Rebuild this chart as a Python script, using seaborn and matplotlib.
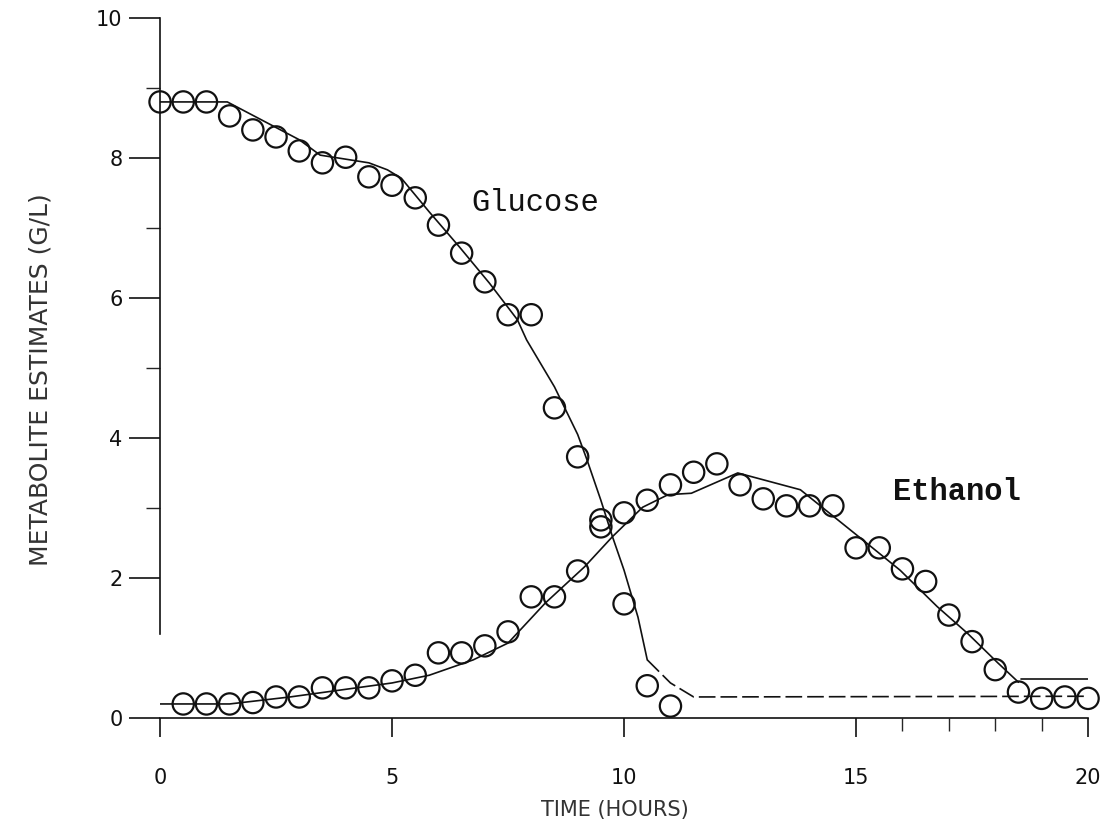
import matplotlib
matplotlib.use('Agg')
import numpy as np
import pandas as pd
import seaborn as sns
import matplotlib.pyplot as plt
from matplotlib.ticker import MultipleLocator, FixedLocator

#--------------------------------------------------------------------------------------------------------------------------
# Data
# Observed glucose (circles), every half hour from 0 h
glc_time = [0.0, 0.5, 1.0, 1.5, 2.0, 2.5, 3.0, 3.5, 4.0, 4.5, 5.0, 5.5, 6.0, 6.5, 7.0, 7.5,
            8.0, 8.5, 9.0, 9.5, 10.0, 10.5, 11.0]
glc_obs = [8.8, 8.8, 8.8, 8.6, 8.4, 8.3, 8.1, 7.93, 8.01, 7.73, 7.61, 7.43, 7.04, 6.64, 6.23, 5.76,
           5.76, 4.43, 3.73, 2.83, 1.63, 0.46, 0.17]

# Observed ethanol (circles), every half hour from 0.5 h
eth_time = [0.5, 1.0, 1.5, 2.0, 2.5, 3.0, 3.5, 4.0, 4.5, 5.0, 5.5, 6.0, 6.5, 7.0, 7.5, 8.0,
            8.5, 9.0, 9.5, 10.0, 10.5, 11.0, 11.5, 12.0, 12.5, 13.0, 13.5, 14.0, 14.5, 15.0,
            15.5, 16.0, 16.5, 17.0, 17.5, 18.0, 18.5, 19.0, 19.5, 20.0]
eth_obs = [0.2, 0.2, 0.2, 0.22, 0.3, 0.3, 0.43, 0.43, 0.43, 0.53, 0.61, 0.93, 0.93, 1.03, 1.23, 1.73,
           1.73, 2.1, 2.73, 2.93, 3.11, 3.33, 3.51, 3.63, 3.33, 3.13, 3.03, 3.03, 3.03, 2.43,
           2.43, 2.13, 1.95, 1.47, 1.09, 0.69, 0.37, 0.28, 0.3, 0.28]

# Model estimates (lines)
glc_fit_time = [0, 1.45, 3.0, 3.45, 4.5, 4.9, 5.2, 5.8, 6.45, 7.1, 7.7, 7.9, 8.5, 9.0, 9.2, 9.5,
                9.75, 10.0, 10.3, 10.5]
glc_fit = [8.8, 8.8, 8.26, 8.04, 7.93, 7.83, 7.71, 7.23, 6.73, 6.21, 5.69, 5.4, 4.73, 4.05, 3.69, 3.11,
           2.59, 2.11, 1.44, 0.83]
glc_tail_time = [10.5, 11.0, 11.5, 20.0]
glc_tail = [0.83, 0.5, 0.3, 0.31]

eth_fit_time = [0, 1.5, 2.8, 3.9, 5.0, 5.8, 6.75, 7.5, 8.3, 9.15, 9.75, 10.4, 10.95, 11.45, 12.45,
                13.8, 15.15, 15.95, 16.75, 17.4, 18.05, 18.5]
eth_fit = [0.2, 0.2, 0.3, 0.4, 0.5, 0.61, 0.83, 1.07, 1.64, 2.16, 2.59, 3.01, 3.19, 3.21, 3.5,
           3.26, 2.54, 2.11, 1.59, 1.21, 0.79, 0.51]
eth_tail_time = [18.55, 20.0]
eth_tail = [0.55, 0.55]

x_ticks = [0, 5, 10, 15, 20]
x_minor = [16, 17, 18, 19]
y_ticks = [0, 2, 4, 6, 8, 10]
y_minor = [3, 5, 7, 9]

#--------------------------------------------------------------------------------------------------------------------------
sns.set_style('ticks')
plt.rcParams['font.family'] = ['DejaVu Sans']

fig = plt.figure(figsize=(11.13, 8.26), dpi=100)
ax = fig.add_axes([0.1438, 0.1308, 0.8338, 0.8475])

ink = '#111111'

# Fitted curves
sns.lineplot(x=glc_fit_time, y=glc_fit, sort=False, estimator=None, color=ink, lw=1.2, ax=ax)
sns.lineplot(x=glc_tail_time, y=glc_tail, sort=False, estimator=None, color=ink, lw=1.2,
             dashes=False, ax=ax).lines[-1].set_dashes([10, 3])
sns.lineplot(x=eth_fit_time, y=eth_fit, sort=False, estimator=None, color=ink, lw=1.2, ax=ax)
sns.lineplot(x=eth_tail_time, y=eth_tail, sort=False, estimator=None, color=ink, lw=1.2, ax=ax)

# Observations
for t, v in [(glc_time, glc_obs), (eth_time, eth_obs)]:
    sns.scatterplot(x=t, y=v, marker='o', s=235, facecolor='none', edgecolor=ink,
                    linewidth=1.6, clip_on=False, zorder=3, ax=ax)

# Curve labels
ax.text(6.72, 7.36, 'Glucose', family='Liberation Mono', fontsize=22, color=ink,
        ha='left', va='center')
ax.text(15.8, 3.23, 'Ethanol', family='Liberation Mono', fontsize=22, fontweight='bold',
        color=ink, ha='left', va='center')

# Axes
ax.set_xlim(0, 20)
ax.set_ylim(0, 10)
ax.xaxis.set_major_locator(FixedLocator(x_ticks))
ax.xaxis.set_minor_locator(FixedLocator(x_minor))
ax.yaxis.set_major_locator(FixedLocator(y_ticks))
ax.yaxis.set_minor_locator(FixedLocator(y_minor))
ax.tick_params(axis='y', which='major', length=22, width=1.2, pad=5, labelsize=15, colors=ink)
ax.tick_params(axis='y', which='minor', length=10, width=1.0)
ax.tick_params(axis='x', which='major', length=14, width=1.2, pad=22, labelsize=15, colors=ink)
ax.tick_params(axis='x', which='minor', length=9, width=1.0)

sns.despine(ax=ax)
ax.spines['left'].set_bounds(1.2, 10)
for s in ['left', 'bottom']:
    ax.spines[s].set_linewidth(1.2)
    ax.spines[s].set_color(ink)

ax.set_xlabel('TIME (HOURS)', fontsize=15, color='#333333')
ax.set_ylabel('METABOLITE ESTIMATES (G/L)', fontsize=18, color='#333333')
ax.xaxis.set_label_coords(0.49, -0.117)
ax.yaxis.set_label_coords(-0.116, 0.483)

fig.savefig('out.png', dpi=100)
